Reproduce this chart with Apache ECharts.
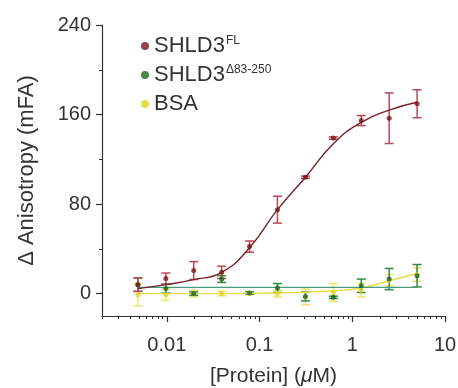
<!DOCTYPE html>
<html>
<head>
<meta charset="utf-8">
<script src="https://cdn.jsdelivr.net/npm/echarts@6/dist/echarts.min.js"></script>
<style>
  html, body { margin: 0; padding: 0; background: #fff; }
  #chart { width: 458px; height: 388px; }
</style>
</head>
<body>
<div id="chart"></div>
<script>
// concentrations (uM), 2-fold dilution series
const conc = [0.00488, 0.00977, 0.0195, 0.039, 0.078, 0.156, 0.3125, 0.625, 1.25, 2.5, 5];

// SHLD3 full length
const flMean = [8, 13.4, 20.6, 19, 42, 75, 104, 139, 154.6, 156.7, 169.6];
const flErr = [6, 5, 8, 5.5, 5, 12, 1, 1, 4.5, 22.6, 12.5];
// fitted curve
const flFitX = [0.00488, 0.00977, 0.0195, 0.039, 0.078, 0.156, 0.3125, 0.625, 1.25, 2.5, 5];
const flFitY = [4.5, 8, 12.5, 19, 41, 75, 104, 134, 153, 164, 171];

// SHLD3 delta 83-250
const delMean = [8, 4.5, 0, 13, 0.5, 5, -2.5, -3.3, 7, 13, 16];
const delErr = [6, 4, 1.5, 3, 1, 4, 4, 1, 6, 9.5, 10];
const delFitX = [0.00488, 5];
const delFitY = [5.6, 5.6];

// BSA
const bsaMean = [-1, -1, 0, 0, 0, 0, -3, 1, 3, 12, 17];
const bsaErr = [10, 5, 3, 2, 1, 3, 7, 8, 6, 5, 6];
const bsaFitX = [0.00488, 0.039, 0.156, 0.625, 1.25, 2.5, 5];
const bsaFitY = [0, 0, 0.5, 2.5, 5, 11.5, 18];

// axes
const xTickValues = [0.01, 0.1, 1, 10];
const xTickLabels = ['0.01', '0.1', '1', '10'];
const xMin = 0.002;
const xMax = 10;
const yTickValues = [0, 80, 160, 240];
const yMinorValues = [40, 120, 200];

const seriesNames = ['SHLD3FL', 'SHLD3D', 'BSA'];

const xMinorLog = [];
for (let d = -3; d <= 0; d++) {
  for (let k = 2; k <= 9; k++) {
    const v = k * Math.pow(10, d);
    if (v >= xMin - 1e-9 && v <= xMax) xMinorLog.push(Math.log10(v));
  }
}

const pairs = (xs, ys) => xs.map((x, i) => [x, ys[i]]);

const FONT = '"Liberation Sans", Arial, Helvetica, sans-serif';
const TXT = '#333';

function errorBars(name, mean, err, color) {
  return {
    type: 'custom',
    name: name + '_err',
    xAxisIndex: 0,
    yAxisIndex: 0,
    silent: true,
    data: conc.map((c, i) => [c, mean[i] - err[i], mean[i] + err[i]]),
    renderItem: (params, api) => {
      const lo = api.coord([api.value(0), api.value(1)]);
      const hi = api.coord([api.value(0), api.value(2)]);
      const w = 4.5;
      const style = { stroke: color, lineWidth: 1.5, fill: null };
      return {
        type: 'group',
        children: [
          { type: 'line', shape: { x1: lo[0], y1: lo[1], x2: hi[0], y2: hi[1] }, style },
          { type: 'line', shape: { x1: lo[0] - w, y1: lo[1], x2: lo[0] + w, y2: lo[1] }, style },
          { type: 'line', shape: { x1: hi[0] - w, y1: hi[1], x2: hi[0] + w, y2: hi[1] }, style },
        ],
      };
    },
  };
}

function fitLine(xs, ys, color, smooth) {
  return {
    type: 'line',
    xAxisIndex: 0,
    yAxisIndex: 0,
    data: pairs(xs, ys),
    smooth: smooth,
    showSymbol: false,
    silent: true,
    lineStyle: { color: color, width: 1.4 },
    z: 3,
  };
}

function points(name, mean, color) {
  return {
    type: 'scatter',
    name: name,
    xAxisIndex: 0,
    yAxisIndex: 0,
    data: pairs(conc, mean),
    symbol: 'circle',
    symbolSize: 5,
    itemStyle: { color: color },
    z: 4,
  };
}

const chart = echarts.init(document.getElementById('chart'));

const option = {
  animation: false,
  backgroundColor: '#fff',
  textStyle: { fontFamily: FONT },
  grid: { left: 102, right: 13, top: 25, bottom: 72, containLabel: false, outerBoundsMode: 'none' },
  legend: {
    orient: 'vertical',
    left: 136,
    top: 30,
    itemGap: 7,
    itemWidth: 8,
    itemHeight: 8,
    icon: 'circle',
    data: seriesNames,
    formatter: (name) => {
      if (name === 'SHLD3FL') return 'SHLD3{sup|FL}';
      if (name === 'SHLD3D') return 'SHLD3{sup|Δ83-250}';
      return name;
    },
    textStyle: {
      color: TXT,
      fontSize: 22,
      fontFamily: FONT,
      rich: {
        sup: { fontSize: 12, color: TXT, fontFamily: FONT, verticalAlign: 'top', padding: [0, 0, 10, 1] },
      },
    },
  },
  xAxis: [
    {
      // data axis (log scale)
      type: 'log',
      logBase: 10,
      min: xMin,
      max: xMax,
      show: false,
    },
    {
      // visible axis with major ticks + labels, in log10 units
      type: 'value',
      position: 'bottom',
      min: Math.log10(xMin),
      max: Math.log10(xMax),
      axisLine: { show: true, onZero: false, lineStyle: { color: TXT, width: 1.2 } },
      axisTick: { show: true, length: 6, customValues: xTickValues.map(Math.log10), lineStyle: { color: TXT, width: 1.2 } },
      axisLabel: {
        customValues: xTickValues.map(Math.log10),
        margin: 19,
        color: TXT,
        fontSize: 20,
        fontFamily: FONT,
        formatter: (v) => {
          const i = xTickValues.findIndex((t) => Math.abs(Math.log10(t) - v) < 1e-6);
          return i >= 0 ? xTickLabels[i] : '';
        },
      },
      splitLine: { show: false },
      name: '[Protein] ({i|μ}M)',
      nameLocation: 'middle',
      nameGap: 50,
      nameTextStyle: {
        color: TXT,
        fontSize: 21,
        fontFamily: FONT,
        rich: { i: { fontStyle: 'italic', fontSize: 21, color: TXT, fontFamily: FONT } },
      },
    },
    {
      // minor ticks
      type: 'value',
      position: 'bottom',
      min: Math.log10(xMin),
      max: Math.log10(xMax),
      axisLine: { show: false, onZero: false },
      axisTick: { show: true, length: 3, customValues: xMinorLog, lineStyle: { color: TXT, width: 1 } },
      axisLabel: { show: false },
      splitLine: { show: false },
    },
  ],
  yAxis: [
    {
      type: 'value',
      position: 'left',
      min: -20,
      max: 240,
      axisLine: { show: true, onZero: false, lineStyle: { color: TXT, width: 1.2 } },
      axisTick: { show: true, length: 6, customValues: yTickValues, lineStyle: { color: TXT, width: 1.2 } },
      axisLabel: { customValues: yTickValues, margin: 11, color: TXT, fontSize: 20, fontFamily: FONT },
      splitLine: { show: false },
      name: 'Δ Anisotropy (mFA)',
      nameLocation: 'middle',
      nameRotate: 90,
      nameGap: 64,
      nameTextStyle: { color: TXT, fontSize: 22, fontFamily: FONT },
    },
    {
      type: 'value',
      position: 'left',
      min: -20,
      max: 240,
      axisLine: { show: false, onZero: false },
      axisTick: { show: true, length: 3, customValues: yMinorValues, lineStyle: { color: TXT, width: 1 } },
      axisLabel: { show: false },
      splitLine: { show: false },
    },
  ],
  series: [
    errorBars('BSA', bsaMean, bsaErr, '#efe36c'),
    fitLine(bsaFitX, bsaFitY, '#e9dc4a', true),
    points('BSA', bsaMean, '#e6d320'),
    errorBars('SHLD3D', delMean, delErr, '#2f8c3f'),
    fitLine(delFitX, delFitY, '#4a9a80', false),
    points('SHLD3D', delMean, '#1d641f'),
    errorBars('SHLD3FL', flMean, flErr, '#b84a55'),
    fitLine(flFitX, flFitY, '#7a1e2c', true),
    points('SHLD3FL', flMean, '#7a1818'),
  ],
};

chart.setOption(option);
</script>
</body>
</html>
